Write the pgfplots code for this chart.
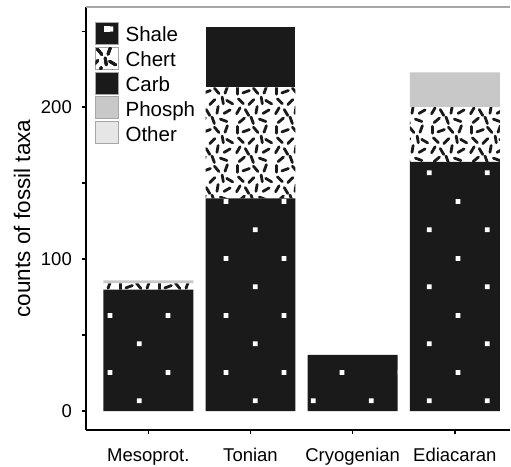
\documentclass[border=0pt]{standalone}
\usepackage{fontspec}
\setmainfont{Liberation Sans}
\usepackage{pgfplots}
\pgfplotsset{compat=1.18}
\usetikzlibrary{patterns}

\pgfdeclarepatternformonly{shale}{\pgfpointorigin}{\pgfqpoint{58bp}{57bp}}{\pgfqpoint{58bp}{57bp}}{%
  \pgfpathrectangle{\pgfqpoint{50.3bp}{36.6bp}}{\pgfqpoint{4.8bp}{4.8bp}}%
  \pgfpathrectangle{\pgfqpoint{21.3bp}{8.1bp}}{\pgfqpoint{4.8bp}{4.8bp}}%
  \pgfusepath{fill}}

\pgfdeclarepatternformonly{chert}{\pgfqpoint{-3bp}{-3bp}}{\pgfqpoint{42bp}{42bp}}{\pgfqpoint{39bp}{39bp}}{%
  \pgfsetlinewidth{2.8bp}\pgfsetroundcap
  \pgftransformscale{0.867}%
  \pgfpathmoveto{\pgfqpoint{3bp}{2.54bp}}\pgfpathlineto{\pgfqpoint{7bp}{9.46bp}}%
  \pgfpathmoveto{\pgfqpoint{17bp}{0.54bp}}\pgfpathlineto{\pgfqpoint{13bp}{7.46bp}}%
  \pgfpathmoveto{\pgfqpoint{25.31bp}{3.06bp}}\pgfpathlineto{\pgfqpoint{26.69bp}{10.94bp}}%
  \pgfpathmoveto{\pgfqpoint{33.54bp}{3bp}}\pgfpathlineto{\pgfqpoint{40.46bp}{7bp}}%
  \pgfpathmoveto{\pgfqpoint{10.83bp}{14.17bp}}\pgfpathlineto{\pgfqpoint{5.17bp}{19.83bp}}%
  \pgfpathmoveto{\pgfqpoint{17.17bp}{13.17bp}}\pgfpathlineto{\pgfqpoint{22.83bp}{18.83bp}}%
  \pgfpathmoveto{\pgfqpoint{32.69bp}{14.06bp}}\pgfpathlineto{\pgfqpoint{31.31bp}{21.94bp}}%
  \pgfpathmoveto{\pgfqpoint{43.46bp}{14bp}}\pgfpathlineto{\pgfqpoint{36.54bp}{18bp}}%
  \pgfpathmoveto{\pgfqpoint{4bp}{25bp}}\pgfpathlineto{\pgfqpoint{4bp}{33bp}}%
  \pgfpathmoveto{\pgfqpoint{10.24bp}{26.63bp}}\pgfpathlineto{\pgfqpoint{17.76bp}{29.37bp}}%
  \pgfpathmoveto{\pgfqpoint{27.57bp}{25.94bp}}\pgfpathlineto{\pgfqpoint{22.43bp}{32.06bp}}%
  \pgfpathmoveto{\pgfqpoint{34.63bp}{26.24bp}}\pgfpathlineto{\pgfqpoint{37.37bp}{33.76bp}}%
  \pgfpathmoveto{\pgfqpoint{5.94bp}{37.43bp}}\pgfpathlineto{\pgfqpoint{12.06bp}{42.57bp}}%
  \pgfpathmoveto{\pgfqpoint{22.37bp}{36.24bp}}\pgfpathlineto{\pgfqpoint{19.63bp}{43.76bp}}%
  \pgfpathmoveto{\pgfqpoint{36.76bp}{38.63bp}}\pgfpathlineto{\pgfqpoint{29.24bp}{41.37bp}}%
  \pgfusepath{stroke}}

\definecolor{barblack}{HTML}{1A1A1A}
\definecolor{phosph}{HTML}{C8C8C8}
\definecolor{other}{HTML}{E6E6E6}

\begin{document}
\begin{tikzpicture}
\useasboundingbox (-86bp,-37bp) rectangle (425bp,430bp);
\begin{axis}[
  scale only axis,
  width=424bp, height=423bp,
  at={(0,0)}, anchor=south west,
  ybar stacked,
  bar width=0.88,
  xmin=-0.61, xmax=3.54,
  ymin=-12.5, ymax=266,
  clip=false,
  axis x line*=bottom, axis y line*=left,
  axis line style={black, line width=1.5bp},
  xtick={0,1,2,3},
  xticklabels={Mesoprot.,Tonian,Cryogenian,Ediacaran},
  ytick={0,100,200},
  minor ytick={50,150,250},
  tick align=outside,
  major tick length=4bp, minor tick length=4bp,
  tick style={black, line width=1.5bp},
  /pgf/number format/assume math mode=true,
  yticklabel style={font=\fontsize{18.5bp}{20bp}\selectfont, anchor=east, inner sep=0pt, xshift=-10bp},
  xticklabel style={font=\fontsize{18.5bp}{20bp}\selectfont, anchor=base, inner sep=0pt, yshift=-27bp},
  ylabel={counts of fossil taxa},
  every axis y label/.style={at={([xshift=-64bp]axis description cs:0,0.5)}, rotate=90, anchor=center,
    font=\fontsize{22.5bp}{24bp}\selectfont},
  legend style={draw=none, fill=none, inner sep=0pt, outer sep=0pt,
    at={(0.0212,0.9645)}, anchor=north west, row sep=0pt,
    font=\fontsize{20.5bp}{22bp}\selectfont,
    nodes={inner sep=0pt, text height=12bp, text depth=5bp},
    /tikz/every odd column/.style={column sep=7bp}},
  legend cell align=left,
]
\addplot[fill=barblack, draw=none, postaction={pattern=shale, pattern color=white},
  legend image code/.code={\path[fill=barblack, draw=none] (0bp,-6bp) rectangle (23bp,16bp);
    \path[fill=white, draw=none] (8.5bp,6bp) rectangle (14.5bp,12bp);
    \path[draw=black!35, fill=none, line width=0.6bp] (0bp,-6bp) rectangle (23bp,16bp);}]
  coordinates {(0,80) (1,140) (2,37) (3,164)};
\addplot[fill=white, draw=none, postaction={pattern=chert, pattern color=barblack},
  legend image code/.code={\path[fill=white, draw=none] (0bp,-6bp) rectangle (23bp,16bp);
    \path[pattern=chert, pattern color=barblack, draw=none] (0bp,-6bp) rectangle (23bp,16bp);
    \path[draw=black!35, fill=none, line width=0.6bp] (0bp,-6bp) rectangle (23bp,16bp);}]
  coordinates {(0,4) (1,73) (2,0) (3,36)};
\addplot[fill=barblack, draw=none,
  legend image code/.code={\path[fill=barblack, draw=none] (0bp,-6bp) rectangle (23bp,16bp);
    \path[draw=black!35, fill=none, line width=0.6bp] (0bp,-6bp) rectangle (23bp,16bp);}]
  coordinates {(0,0) (1,40) (2,0) (3,0)};
\addplot[fill=phosph, draw=none,
  legend image code/.code={\path[fill=phosph, draw=none] (0bp,-6bp) rectangle (23bp,16bp);
    \path[draw=black!35, fill=none, line width=0.6bp] (0bp,-6bp) rectangle (23bp,16bp);}]
  coordinates {(0,2) (1,0) (2,0) (3,23)};
\addplot[fill=other, draw=none,
  legend image code/.code={\path[fill=other, draw=none] (0bp,-6bp) rectangle (23bp,16bp);
    \path[draw=black!35, fill=none, line width=0.6bp] (0bp,-6bp) rectangle (23bp,16bp);}]
  coordinates {(0,0) (1,0) (2,0) (3,0)};
\legend{Shale,Chert,Carb,Phosph,Other}
\draw[black!35, line width=1.5bp] (rel axis cs:0,1) -- (rel axis cs:1,1);
\end{axis}
\end{tikzpicture}
\end{document}
